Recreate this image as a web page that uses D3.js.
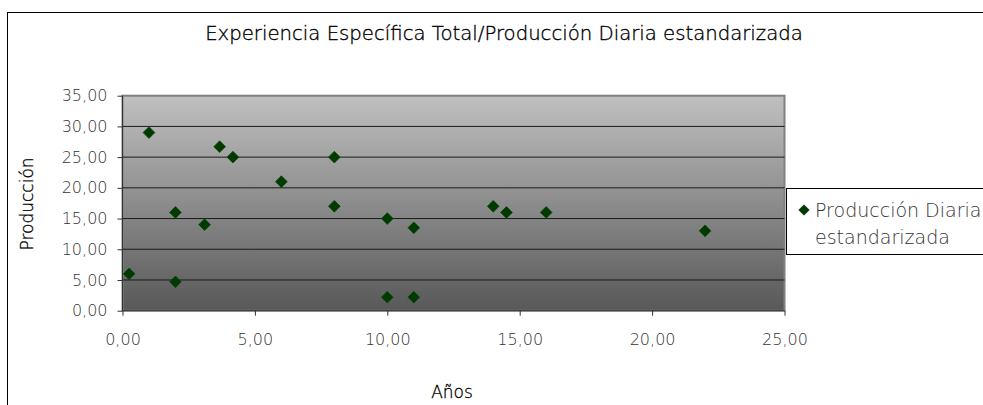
<!DOCTYPE html>
<html>
<head>
<meta charset="utf-8">
<script src="https://cdn.jsdelivr.net/npm/d3@7"></script>
<style>
  body { margin: 0; background: #fff; }
  text { font-family: "DejaVu Sans", sans-serif; font-weight: 200; }
</style>
</head>
<body>
<div id="container"></div>
<script>
let w = 983;
let h = 405;

// data
let years      = [0.25, 1, 2, 2, 3.1, 3.67, 4.17, 6, 8, 8, 10, 10, 11, 11, 14, 14.5, 16, 22];
let production = [6, 29, 16, 4.7, 14, 26.7, 25, 21, 25, 17, 15, 2.2, 13.5, 2.2, 17, 16, 16, 13];
let xTicks = [0, 5, 10, 15, 20, 25];
let yTicks = [0, 5, 10, 15, 20, 25, 30, 35];
let seriesName = ["Producción Diaria", "estandarizada"];

let points = years.map(function(d, i){ return {x: d, y: production[i]}; });

let plotLeft = 122.5, plotRight = 784.5, plotTop = 95.7, plotBottom = 310.7;

let viz = d3.select("#container").append("svg")
    .attr("width", w)
    .attr("height", h);

// outer chart border
viz.append("rect")
  .attr("x", 7.5).attr("y", 12.5)
  .attr("width", w + 10).attr("height", h + 10)
  .attr("fill", "white").attr("stroke", "black");

let xScale = d3.scaleLinear().domain([0, 25]).range([plotLeft, plotRight]);
let yScale = d3.scaleLinear().domain([0, 35]).range([plotBottom, plotTop]);

// plot background gradient
let grad = viz.append("defs").append("linearGradient")
  .attr("id", "bg").attr("x1", 0).attr("y1", 0).attr("x2", 0).attr("y2", 1);
grad.append("stop").attr("offset", "0%").attr("stop-color", "#c0c0c0");
grad.append("stop").attr("offset", "100%").attr("stop-color", "#585858");

viz.append("rect")
  .attr("x", plotLeft).attr("y", plotTop)
  .attr("width", plotRight - plotLeft).attr("height", plotBottom - plotTop)
  .attr("fill", "url(#bg)")
  .attr("stroke", "#808080").attr("stroke-width", 2);

// gridlines
viz.append("g").selectAll("line")
  .data(yTicks.slice(1, -1))
  .enter().append("line")
  .attr("x1", plotLeft).attr("x2", plotRight)
  .attr("y1", d => yScale(d)).attr("y2", d => yScale(d))
  .attr("stroke", "#1a1a1a").attr("stroke-width", 1);

let fmt = d => d3.format(".2f")(d).replace(".", ",");

let xAxis = d3.axisBottom(xScale).tickValues(xTicks).tickSize(5).tickPadding(18).tickFormat(fmt);
let xAxisGroup = viz.append("g").attr("transform", "translate(0," + plotBottom + ")").call(xAxis);
xAxisGroup.select(".domain").attr("stroke", "#333").attr("d", "M" + plotLeft + ",0H" + plotRight);
xAxisGroup.selectAll("line").attr("stroke", "#333");
xAxisGroup.selectAll("text").attr("fill", "#333").style("font-size", "16px");

let yAxis = d3.axisLeft(yScale).tickValues(yTicks).tickSize(5).tickPadding(10).tickFormat(fmt);
let yAxisGroup = viz.append("g").attr("transform", "translate(" + plotLeft + ",0)").call(yAxis);
yAxisGroup.select(".domain").attr("stroke", "#333").attr("d", "M0," + plotTop + "V" + plotBottom);
yAxisGroup.selectAll("line").attr("stroke", "#333");
yAxisGroup.selectAll("text").attr("fill", "#333").style("font-size", "16px");

// points
let diamond = d3.symbol().type(d3.symbolDiamond2).size(88);
viz.append("g").selectAll("path")
  .data(points)
  .enter().append("path")
  .attr("d", diamond)
  .attr("transform", d => "translate(" + xScale(d.x) + "," + yScale(d.y) + ")")
  .attr("fill", "#003a00")
  .attr("stroke", "#0a4a0a").attr("stroke-width", 0.8);

// title and axis titles
viz.append("text")
  .attr("x", 504).attr("y", 40)
  .attr("text-anchor", "middle")
  .attr("fill", "#000").attr("stroke", "#000").attr("stroke-width", 0.35)
  .style("font-size", "19.7px")
  .text("Experiencia Específica Total/Producción Diaria estandarizada");

viz.append("text")
  .attr("x", 452).attr("y", 398)
  .attr("text-anchor", "middle")
  .attr("fill", "#000").attr("stroke", "#000").attr("stroke-width", 0.3)
  .style("font-size", "17px")
  .text("Años");

viz.append("text")
  .attr("transform", "translate(33,204) rotate(-90)")
  .attr("text-anchor", "middle")
  .attr("fill", "#000").attr("stroke", "#000").attr("stroke-width", 0.3)
  .style("font-size", "17px")
  .text("Producción");

// legend
viz.append("rect")
  .attr("x", 786.5).attr("y", 188.5)
  .attr("width", 220).attr("height", 66)
  .attr("fill", "white").attr("stroke", "black");
viz.append("path")
  .attr("d", d3.symbol().type(d3.symbolDiamond2).size(80))
  .attr("transform", "translate(804,210)")
  .attr("fill", "#003a00");
viz.append("g").selectAll("text")
  .data(seriesName)
  .enter().append("text")
  .attr("x", 815).attr("y", (d, i) => 217 + i * 27)
  .attr("fill", "#333")
  .style("font-size", "19px")
  .text(d => d);
</script>
</body>
</html>
